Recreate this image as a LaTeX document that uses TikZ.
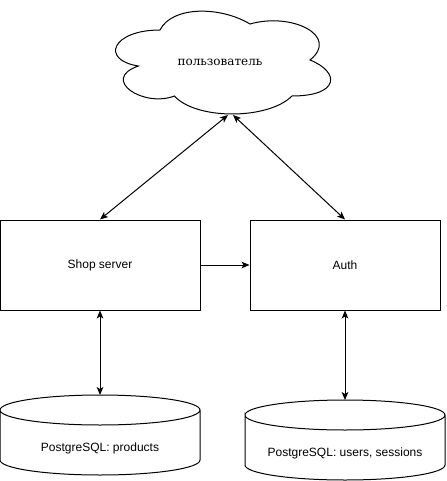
\documentclass[tikz,border=0pt]{standalone}
\usepackage{fontspec}
\setmainfont{Liberation Sans}
\newfontfamily\cloudfont{DejaVu Serif}
\usetikzlibrary{arrows.meta}
\begin{document}
\begin{tikzpicture}[x=0.75pt,y=-0.75pt,
  line width=0.75pt,
  box/.style={draw,minimum width=150pt,minimum height=67.5pt,inner sep=0pt,font=\fontsize{9}{11}\selectfont},
  lbl/.style={font=\fontsize{9}{11}\selectfont},
  conn/.style={{Stealth[length=6pt,width=5pt,inset=1.5pt]}-{Stealth[length=6pt,width=5pt,inset=1.5pt]}},
  oneway/.style={-{Stealth[length=6pt,width=5pt,inset=1.5pt]}}]
\useasboundingbox (0,0) rectangle (446,481);
% cloud (box x 100..340, y 0..120)
\begin{scope}[shift={(100,0)},x=180pt,y=-90pt]
\draw (0.25,0.25) .. controls (0.05,0.25) and (0,0.5) .. (0.16,0.55)
  .. controls (0,0.66) and (0.18,0.9) .. (0.31,0.8)
  .. controls (0.4,1) and (0.7,1) .. (0.8,0.8)
  .. controls (1,0.8) and (1,0.6) .. (0.875,0.5)
  .. controls (1,0.3) and (0.8,0.1) .. (0.625,0.2)
  .. controls (0.5,0.05) and (0.3,0.05) .. (0.25,0.25) -- cycle;
\end{scope}
\node[font=\cloudfont\fontsize{9}{11}\selectfont] (user) at (220,62) {пользователь};
\coordinate (uL) at (228,115);
\coordinate (uR) at (233,115);
% boxes
\node[box] (shop) at (100,265) {Shop server};
\node[box,minimum width=142.5pt] (auth) at (345,265) {Auth};
% cylinders
\draw (0,410) arc[start angle=180,end angle=360,x radius=100,y radius=15]
      arc[start angle=0,end angle=180,x radius=100,y radius=15]
      -- (0,460) arc[start angle=180,end angle=0,x radius=100,y radius=15] -- (200,410);
\coordinate (db1) at (100,395);
\node[lbl] (db1t) at (100,448) {PostgreSQL: products};
\draw (245,415) arc[start angle=180,end angle=360,x radius=100,y radius=15]
      arc[start angle=0,end angle=180,x radius=100,y radius=15]
      -- (245,465) arc[start angle=180,end angle=0,x radius=100,y radius=15] -- (445,415);
\coordinate (db2) at (345,400);
\node[lbl] (db2t) at (345,453) {PostgreSQL: users, sessions};
% connectors
\draw[conn] (uL) -- (shop.north);
\draw[conn] (uR) -- (auth.north);
\draw[oneway] (shop.east) -- (auth.west);
\draw[conn] (shop.south) -- (db1);
\draw[conn] (auth.south) -- (db2);
\end{tikzpicture}
\end{document}
